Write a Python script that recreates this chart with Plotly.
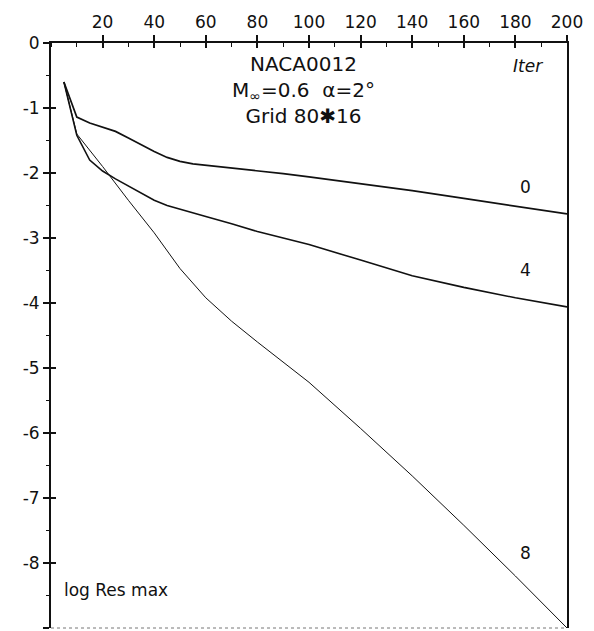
import plotly.graph_objects as go

# Iterations (x) and log of max residual (y) for each curve
iter0 = [5, 10, 15, 20, 25, 30, 35, 40, 45, 50, 55, 60, 70, 80, 90, 100, 120, 140, 160, 180, 200]
res0 = [-0.6, -1.14, -1.23, -1.29, -1.36, -1.46, -1.57, -1.67, -1.76, -1.82, -1.86, -1.88,
        -1.92, -1.96, -2.01, -2.06, -2.16, -2.27, -2.39, -2.51, -2.63]

iter4 = [5, 10, 15, 20, 25, 30, 35, 40, 45, 50, 60, 70, 80, 90, 100, 120, 140, 160, 180, 200]
res4 = [-0.6, -1.42, -1.8, -1.97, -2.09, -2.2, -2.31, -2.42, -2.5, -2.56, -2.67, -2.78,
        -2.9, -3.0, -3.1, -3.34, -3.58, -3.76, -3.92, -4.06]

iter8 = [5, 10, 20, 30, 40, 50, 60, 70, 80, 90, 100, 120, 140, 160, 180, 200]
res8 = [-0.6, -1.4, -1.9, -2.42, -2.92, -3.47, -3.92, -4.28, -4.6, -4.91, -5.22, -5.93,
        -6.66, -7.42, -8.2, -9.0]

curve_labels = ["0", "4", "8"]
label_x = [184, 184, 184]
label_y = [-2.22, -3.49, -7.85]

x_ticks = [20, 40, 60, 80, 100, 120, 140, 160, 180, 200]
y_ticks = [0, -1, -2, -3, -4, -5, -6, -7, -8, -9]
y_ticktext = ["0", "-1", "-2", "-3", "-4", "-5", "-6", "-7", "-8", "-9"]

FONT = "DejaVu Sans"
INK = "#111111"

fig = go.Figure()
fig.add_trace(go.Scatter(x=iter0, y=res0, mode="lines", line=dict(color=INK, width=1.7), showlegend=False))
fig.add_trace(go.Scatter(x=iter4, y=res4, mode="lines", line=dict(color=INK, width=1.6), showlegend=False))
fig.add_trace(go.Scatter(x=iter8, y=res8, mode="lines", line=dict(color=INK, width=1.0), showlegend=False))
# invisible trace on overlay axes (for crossing tick marks)
fig.add_trace(go.Scatter(x=[None], y=[None], xaxis="x2", yaxis="y2", showlegend=False, hoverinfo="skip"))

for t, xx, yy in zip(curve_labels, label_x, label_y):
    fig.add_annotation(x=xx, y=yy, text=t, showarrow=False,
                       font=dict(family=FONT, size=17, color=INK))

fig.add_annotation(x=97.7, y=-0.72, yanchor="middle", text="NACA0012<br>M<sub>∞</sub>=0.6  α=2°<br>Grid 80✱16",
                   showarrow=False, align="center",
                   font=dict(family=FONT, size=20, color=INK))
fig.add_annotation(x=185, y=-0.35, text="<i>Iter</i>", showarrow=False,
                   font=dict(family=FONT, size=17, color=INK))
fig.add_annotation(x=4.3, y=-8.42, text="log Res max", xanchor="left", showarrow=False,
                   font=dict(family=FONT, size=17, color=INK))

# faint dotted bottom frame line
fig.add_shape(type="line", xref="paper", yref="paper", x0=0, x1=1, y0=0, y1=0,
              line=dict(color="#777777", width=1, dash="dot"))

# page body has an 8px margin, so the figure is offset by 8px
fig.update_layout(
    width=586, height=623,
    margin=dict(l=43, r=27, t=35, b=3, autoexpand=False),
    paper_bgcolor="white", plot_bgcolor="white",
    font=dict(family=FONT, size=17, color=INK),
    xaxis=dict(range=[0, 200], side="top", tickvals=x_ticks, ticks="outside", ticklen=6,
               tickwidth=1.5, tickcolor=INK, showline=True, linecolor=INK, linewidth=1.5,
               showgrid=False, zeroline=False, mirror=False, automargin=False,
               minor=dict(dtick=10, tick0=0, ticks="inside", ticklen=4, tickwidth=1.2, tickcolor=INK),
               tickfont=dict(family=FONT, size=17, color=INK)),
    yaxis=dict(range=[-9, 0], tickvals=y_ticks, ticktext=y_ticktext, ticks="outside", ticklen=6,
               tickwidth=1.5, tickcolor=INK, showline=True, linecolor=INK, linewidth=2,
               mirror=True, showgrid=False, zeroline=False, automargin=False,
               minor=dict(dtick=0.5, tick0=0, ticks="outside", ticklen=3, tickwidth=1.2, tickcolor=INK),
               tickfont=dict(family=FONT, size=17, color=INK)),
    xaxis2=dict(range=[0, 200], overlaying="x", side="top", tickvals=x_ticks, ticks="inside",
                ticklen=5, tickwidth=1.5, tickcolor=INK, showticklabels=False, showline=False,
                showgrid=False, zeroline=False, automargin=False),
    yaxis2=dict(range=[-9, 0], overlaying="y", side="left", tickvals=y_ticks, ticks="inside",
                ticklen=5, tickwidth=1.5, tickcolor=INK, showticklabels=False, showline=False,
                showgrid=False, zeroline=False, automargin=False),
)

fig.write_html("out.html")
